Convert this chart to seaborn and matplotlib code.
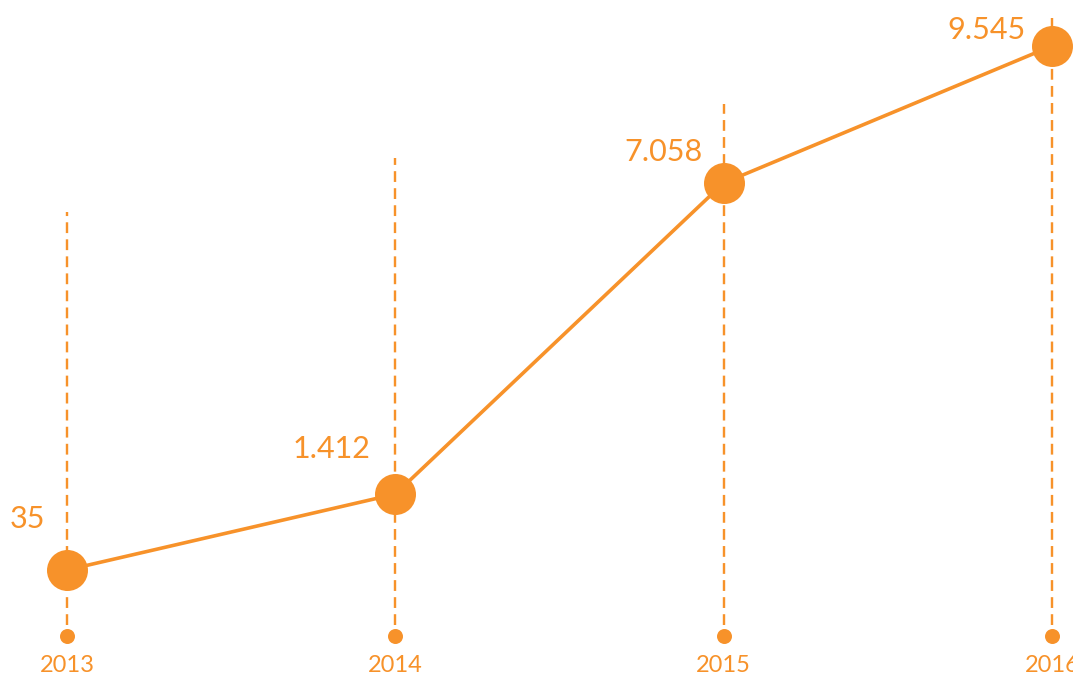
import numpy as np
import pandas as pd
import matplotlib
matplotlib.use("Agg")
import matplotlib.pyplot as plt
import seaborn as sns

# donnees
years = ["2013", "2014", "2015", "2016"]
values = [35, 1412, 7058, 9545]
value_labels = ["35", "1.412", "7.058", "9.545"]

# mise en page (fractions d'axes / decalages en pixels)
guide_tops = [0.685, 0.766, 0.846, 0.973]
label_offsets = [(-22, 51), (-25, 45), (-21, 31), (-26, 16)]

orange = "#F7922A"

sns.set_theme(style="white")
plt.rcParams["font.family"] = ["Lato", "DejaVu Sans"]

df = pd.DataFrame({"idx": np.arange(len(years)), "value": values})

fig = plt.figure(figsize=(10.73, 6.74), dpi=100)
ax = fig.add_axes([0, 0, 1, 1])

px = 72 / 100  # pixels -> points

# lignes verticales pointillees
trans = ax.get_xaxis_transform()
for i, top in enumerate(guide_tops):
    ax.plot([i, i], [0.073, top], transform=trans, color=orange,
            lw=2.4 * px, linestyle=(0, (4.5, 2.6)), zorder=1)
    ax.plot([i], [0.056], transform=trans, marker="o", color=orange,
            markersize=15 * px, markeredgewidth=0, zorder=2)
    ax.text(i, 0.013, years[i], transform=trans, ha="center", va="center",
            color=orange, fontsize=17)

sns.lineplot(data=df, x="idx", y="value", ax=ax, color=orange,
             linewidth=3.6 * px, marker="o", markersize=41 * px,
             markeredgewidth=0, zorder=3)

for i, (v, lab) in enumerate(zip(values, value_labels)):
    dx, dy = label_offsets[i]
    ax.annotate(lab, (i, v), xytext=(dx * px, dy * px), textcoords="offset points",
                ha="right", va="center", color=orange, fontsize=22)

ax.set_xlim(-0.204, 3.064)
ax.set_ylim(-1853, 10379)
ax.axis("off")

fig.savefig("out.png", dpi=100)
